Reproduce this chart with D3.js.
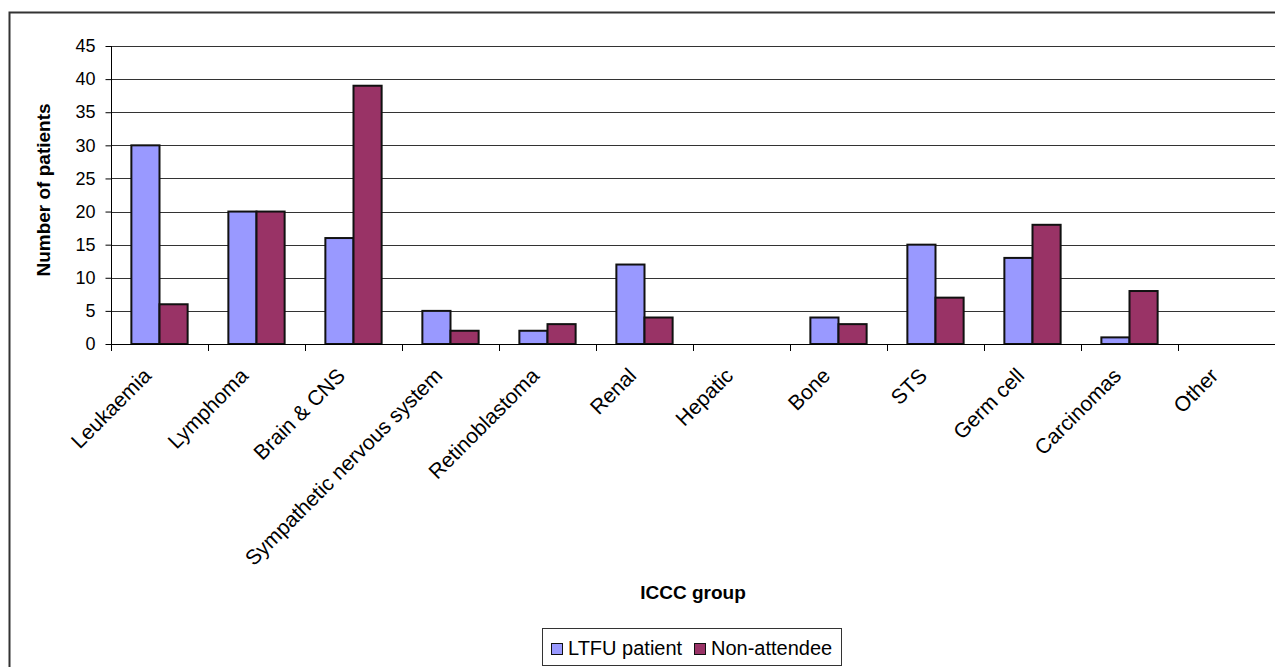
<!DOCTYPE html>
<html>
<head>
<meta charset="utf-8">
<script src="https://cdn.jsdelivr.net/npm/d3@7"></script>
<style>
  html, body { margin: 0; padding: 0; background: #fff; }
  svg { display: block; font-family: "Liberation Sans", Arial, sans-serif; }
</style>
</head>
<body>
<svg id="chart" width="1275" height="667"></svg>
<script>
// ICCC diagnostic groups and patient counts per series
const categories = ["Leukaemia", "Lymphoma", "Brain & CNS", "Sympathetic nervous system",
  "Retinoblastoma", "Renal", "Hepatic", "Bone", "STS", "Germ cell", "Carcinomas", "Other"];
const seriesNames = ["LTFU patient", "Non-attendee"];
const ltfuValues = [30, 20, 16, 5, 2, 12, 0, 4, 15, 13, 1, 0];
const nonAttendeeValues = [6, 20, 39, 2, 3, 4, 0, 3, 7, 18, 8, 0];
const yTicks = [0, 5, 10, 15, 20, 25, 30, 35, 40, 45];
const colors = ["#9999FF", "#993366"];

const svg = d3.select("#chart");

// Outer chart-area frame (runs off the right and bottom edges)
svg.append("rect")
  .attr("x", 9.5).attr("y", 12.5)
  .attr("width", 1400).attr("height", 700)
  .attr("fill", "#fff").attr("stroke", "#333").attr("stroke-width", 2);

const plot = { left: 111, right: 1275, top: 46, bottom: 344 };

const x0 = d3.scaleBand().domain(categories).range([plot.left, plot.right]).padding(0);
const bw = x0.bandwidth();
const x1 = d3.scaleBand().domain(seriesNames)
  .range([bw * 0.21, bw * 0.79]).padding(0);
const y = d3.scaleLinear().domain([0, 45]).range([plot.bottom, plot.top]);

// Horizontal gridlines
svg.append("g")
  .selectAll("line")
  .data(yTicks.filter(d => d > 0))
  .join("line")
  .attr("x1", plot.left).attr("x2", plot.right)
  .attr("y1", d => Math.round(y(d)) + 0.5).attr("y2", d => Math.round(y(d)) + 0.5)
  .attr("stroke", "#333").attr("stroke-width", 1);

// Bars
const rows = categories.map((c, i) => ({ cat: c, vals: [ltfuValues[i], nonAttendeeValues[i]] }));
const groups = svg.append("g")
  .selectAll("g")
  .data(rows)
  .join("g")
  .attr("transform", d => `translate(${x0(d.cat)},0)`);

groups.selectAll("rect")
  .data(d => d.vals.map((v, k) => ({ v, k })).filter(e => e.v > 0))
  .join("rect")
  .attr("x", e => x1(seriesNames[e.k]))
  .attr("width", x1.bandwidth())
  .attr("y", e => y(e.v))
  .attr("height", e => y(0) - y(e.v))
  .attr("fill", e => colors[e.k])
  .attr("stroke", "#111")
  .attr("stroke-width", 2);

// Y axis
const yAxis = d3.axisLeft(y).tickValues(yTicks).tickSize(6).tickPadding(10);
const gy = svg.append("g")
  .attr("transform", `translate(${plot.left + 0.5},0)`)
  .call(yAxis);
gy.select(".domain").attr("stroke", "#000").attr("d", `M0,${plot.top}V${plot.bottom}`);
gy.selectAll(".tick line").attr("stroke", "#000");
gy.selectAll(".tick text")
  .attr("font-size", 18)
  .attr("fill", "#000")
  .attr("font-family", "Liberation Sans, Arial, sans-serif");

// X axis: ticks at category boundaries
const xAxisG = svg.append("g");
xAxisG.append("line")
  .attr("x1", plot.left).attr("x2", plot.right)
  .attr("y1", plot.bottom + 0.5).attr("y2", plot.bottom + 0.5)
  .attr("stroke", "#000");
xAxisG.selectAll("line.tk")
  .data(categories)
  .join("line")
  .attr("class", "tk")
  .attr("x1", d => Math.round(x0(d)) + 0.5).attr("x2", d => Math.round(x0(d)) + 0.5)
  .attr("y1", plot.bottom).attr("y2", plot.bottom + 7)
  .attr("stroke", "#000");

// Rotated category labels
xAxisG.selectAll("text")
  .data(categories)
  .join("text")
  .attr("transform", d => `translate(${x0(d) + bw / 2 - 7},${plot.bottom + 33}) rotate(-45)`)
  .attr("text-anchor", "end")
  .attr("font-size", 21)
  .attr("fill", "#000")
  .text(d => d);

// Axis titles
svg.append("text")
  .attr("transform", `translate(50,190) rotate(-90)`)
  .attr("text-anchor", "middle")
  .attr("font-size", 19)
  .attr("font-weight", "bold")
  .text("Number of patients");

svg.append("text")
  .attr("x", 693).attr("y", 599)
  .attr("text-anchor", "middle")
  .attr("font-size", 19)
  .attr("font-weight", "bold")
  .text("ICCC group");

// Legend
const legend = svg.append("g");
legend.append("rect")
  .attr("x", 542.5).attr("y", 628.5).attr("width", 299).attr("height", 37)
  .attr("fill", "#fff").attr("stroke", "#333").attr("stroke-width", 1);
const legendX = [551, 694];
seriesNames.forEach((name, k) => {
  legend.append("rect")
    .attr("x", legendX[k] + 0.5).attr("y", 643.5)
    .attr("width", 11).attr("height", 11)
    .attr("fill", colors[k]).attr("stroke", "#111").attr("stroke-width", 1);
  legend.append("text")
    .attr("x", legendX[k] + 17).attr("y", 655)
    .attr("font-size", 20)
    .attr("fill", "#000")
    .text(name);
});
</script>
</body>
</html>
